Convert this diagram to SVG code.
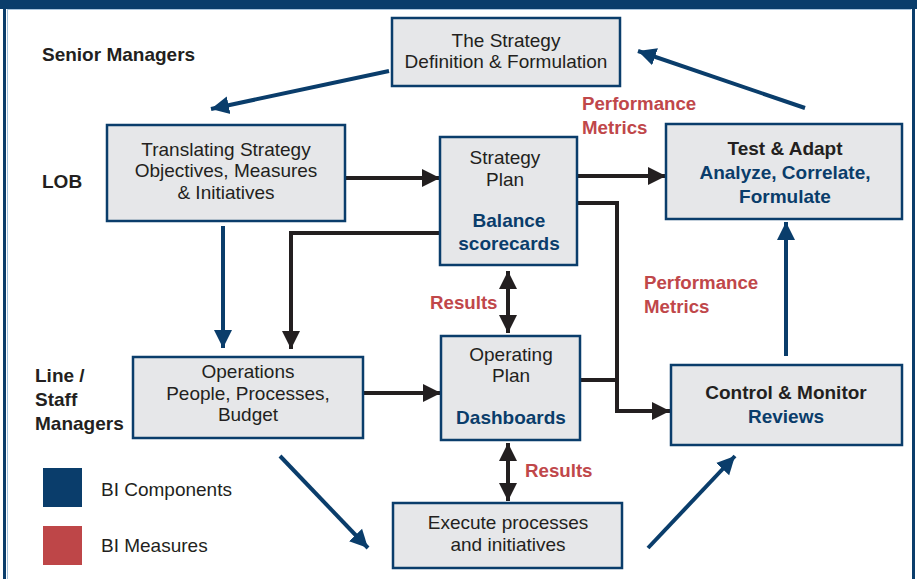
<svg xmlns="http://www.w3.org/2000/svg" width="917" height="579" viewBox="0 0 917 579">
<style>
.box{fill:#e6e7e9;stroke:#0a3d6b;stroke-width:2.5}
.t{font-family:"Liberation Sans",Arial,sans-serif;font-size:19px;fill:#231f20;text-anchor:middle}
.b{font-weight:bold}
.blue{fill:#0a3d6b}
.red{font-family:"Liberation Sans",Arial,sans-serif;font-size:18.7px;font-weight:bold;fill:#c0474a}
.lab{font-family:"Liberation Sans",Arial,sans-serif;font-size:19px;font-weight:bold;fill:#231f20}
.leg{font-family:"Liberation Sans",Arial,sans-serif;font-size:19px;fill:#231f20}
.k{fill:none;stroke:#231f20;stroke-width:4}
.bl{fill:none;stroke:#0a3d6b;stroke-width:4}
</style>
<defs>
<marker id="ak" markerUnits="userSpaceOnUse" markerWidth="20" markerHeight="20" refX="18" refY="9" orient="auto-start-reverse" viewBox="0 0 20 18"><path d="M0,0 L18,9 L0,18 Z" fill="#231f20"/></marker>
<marker id="ab" markerUnits="userSpaceOnUse" markerWidth="20" markerHeight="20" refX="18" refY="9" orient="auto" viewBox="0 0 20 18"><path d="M0,0 L18,9 L0,18 Z" fill="#0a3d6b"/></marker>
</defs>
<rect width="917" height="579" fill="#ffffff"/>
<g id="frame">
<rect x="0" y="0" width="917" height="9" fill="#0a3d6b"/>
<rect x="3" y="0" width="3" height="579" fill="#0a3d6b"/>
<rect x="912" y="0" width="3" height="579" fill="#0a3d6b"/>
<line x1="7.5" y1="9" x2="7.5" y2="579" stroke="#a9c4dc" stroke-width="1"/>
<line x1="7" y1="9.5" x2="911" y2="9.5" stroke="#a9c4dc" stroke-width="1"/>
</g>
<g id="lanes">
<text class="lab" x="42" y="61">Senior Managers</text>
<text class="lab" x="42" y="188">LOB</text>
<text class="lab" x="35" y="382">Line /</text>
<text class="lab" x="35" y="406">Staff</text>
<text class="lab" x="35" y="430">Managers</text>
</g>
<g id="connectors">
<line class="bl" x1="389" y1="71" x2="211" y2="109" marker-end="url(#ab)"/>
<line class="bl" x1="805" y1="108" x2="638" y2="51" marker-end="url(#ab)"/>
<line class="bl" x1="223" y1="226" x2="223" y2="348" marker-end="url(#ab)"/>
<line class="bl" x1="786" y1="356" x2="786" y2="222" marker-end="url(#ab)"/>
<line class="bl" x1="280" y1="456" x2="368" y2="548" marker-end="url(#ab)"/>
<line class="bl" x1="648" y1="548" x2="735" y2="456" marker-end="url(#ab)"/>
<line class="k" x1="345" y1="178" x2="440" y2="178" marker-end="url(#ak)"/>
<polyline class="k" points="440,233 291,233 291,349" marker-end="url(#ak)"/>
<line class="k" x1="363" y1="393" x2="441" y2="393" marker-end="url(#ak)"/>
<line class="k" x1="577" y1="176" x2="666" y2="176" marker-end="url(#ak)"/>
<polyline class="k" points="577,203 617,203 617,411 670,411" marker-end="url(#ak)"/>
<line class="k" x1="580" y1="380" x2="617" y2="380"/>
<line class="k" x1="508" y1="271" x2="508" y2="333" marker-start="url(#ak)" marker-end="url(#ak)"/>
<line class="k" x1="508" y1="443" x2="508" y2="501" marker-start="url(#ak)" marker-end="url(#ak)"/>
<text class="red" x="582" y="110">Performance</text>
<text class="red" x="582" y="134">Metrics</text>
<text class="red" x="644" y="289">Performance</text>
<text class="red" x="644" y="313">Metrics</text>
<text class="red" x="430" y="309">Results</text>
<text class="red" x="525" y="477">Results</text>
</g>
<g id="strategy">
<rect class="box" x="392" y="18" width="228" height="68"/>
<text class="t" x="506" y="47">The Strategy</text>
<text class="t" x="506" y="68">Definition &amp; Formulation</text>
</g>
<g id="translating">
<rect class="box" x="107" y="125" width="238" height="96"/>
<text class="t" x="226" y="156">Translating Strategy</text>
<text class="t" x="226" y="177">Objectives, Measures</text>
<text class="t" x="226" y="199">&amp; Initiatives</text>
</g>
<g id="strategy-plan">
<rect class="box" x="440" y="137" width="137" height="128"/>
<text class="t" x="505" y="164">Strategy</text>
<text class="t" x="505" y="186">Plan</text>
<text class="t b blue" x="509" y="227">Balance</text>
<text class="t b blue" x="509" y="250">scorecards</text>
</g>
<g id="test-adapt">
<rect class="box" x="666" y="124" width="236" height="95"/>
<text class="t b" x="785" y="155">Test &amp; Adapt</text>
<text class="t b blue" x="785" y="179">Analyze, Correlate,</text>
<text class="t b blue" x="785" y="203">Formulate</text>
</g>
<g id="operations">
<rect class="box" x="133" y="357" width="230" height="81"/>
<text class="t" x="248" y="378">Operations</text>
<text class="t" x="248" y="400">People, Processes,</text>
<text class="t" x="248" y="421">Budget</text>
</g>
<g id="operating-plan">
<rect class="box" x="441" y="336" width="139" height="104"/>
<text class="t" x="511" y="361">Operating</text>
<text class="t" x="511" y="382">Plan</text>
<text class="t b blue" x="511" y="424">Dashboards</text>
</g>
<g id="control-monitor">
<rect class="box" x="671" y="365" width="231" height="80"/>
<text class="t b" x="786" y="399">Control &amp; Monitor</text>
<text class="t b blue" x="786" y="423">Reviews</text>
</g>
<g id="execute">
<rect class="box" x="393" y="503" width="229" height="65"/>
<text class="t" x="508" y="529">Execute processes</text>
<text class="t" x="508" y="551">and initiatives</text>
</g>
<g id="legend">
<rect x="43" y="468" width="39" height="39" fill="#0a3d6b"/>
<text class="leg" x="101" y="496">BI Components</text>
<rect x="43" y="526" width="39" height="39" fill="#be4648"/>
<text class="leg" x="101" y="552">BI Measures</text>
</g>
</svg>
